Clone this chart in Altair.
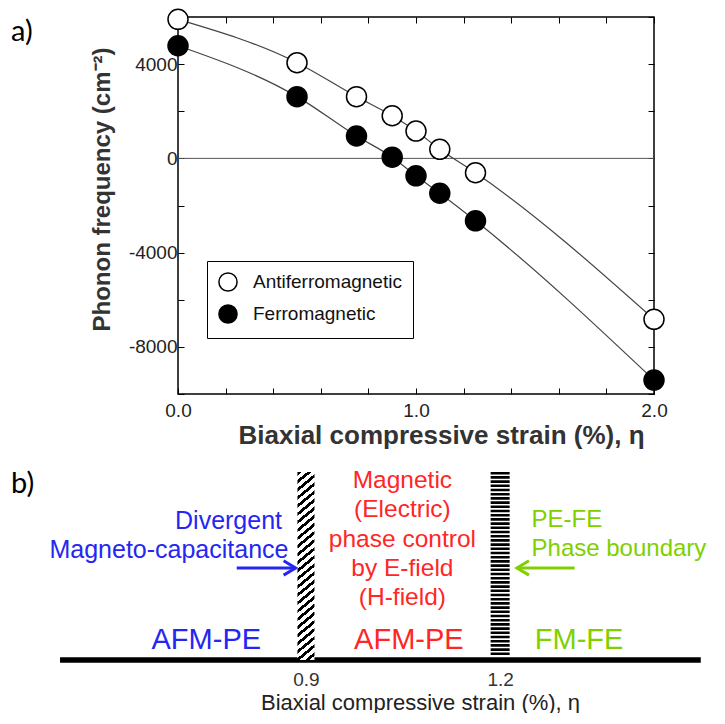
import altair as alt
import pandas as pd

# ---------------- data (panel a) ----------------
strain = [0.0, 0.5, 0.75, 0.9, 1.0, 1.1, 1.25, 2.0]
afm_freq = [5900, 4060, 2620, 1810, 1160, 385, -610, -6830]
fm_freq = [4780, 2620, 950, 50, -740, -1480, -2650, -9410]
series_names = ["Antiferromagnetic", "Ferromagnetic"]

y_tick_values = [-10000, -8000, -6000, -4000, -2000, 0, 2000, 4000, 6000]
y_label_values = [-8000, -4000, 0, 4000]
x_tick_values = [0.0, 0.2, 0.4, 0.6, 0.8, 1.0, 1.2, 1.4, 1.6, 1.8, 2.0]
x_label_values = [0.0, 1.0, 2.0]

# ---------------- data (panel b) ----------------
boundary_strain = [0.9, 1.2]
line_extent = [0.52, 1.51]
blue_text = ["Divergent", "Magneto-capacitance"]
blue_x = [0.863, 0.873]
blue_level = [7.0, 5.55]
red_text = ["Magnetic", "(Electric)", "phase control", "by E-field", "(H-field)"]
red_x = [1.049] * 5
red_level = [9.04, 7.58, 6.06, 4.6, 3.13]
green_text = ["PE-FE", "Phase boundary"]
green_x = [1.2485, 1.2485]
green_level = [7.07, 5.6]
phase_names = ["AFM-PE", "AFM-PE", "FM-FE"]
phase_x = [0.746, 1.059, 1.322]
phase_level = [1.0, 1.0, 1.0]
arrow_from = [0.793, 1.315]
arrow_to = [0.884, 1.226]
arrow_level = [4.65, 4.65]

BLUE = "#2626f2"
RED = "#ff2626"
GREEN = "#80d000"
FONT = "Liberation Sans"

# ---------------- panel a ----------------
W, H = 476, 377
xs = alt.Scale(domain=[0, 2], nice=False, zero=False)
ys = alt.Scale(domain=[-10000, 6000], nice=False, zero=False)

df = pd.DataFrame({
    "strain": strain * 2,
    "freq": afm_freq + fm_freq,
    "series": [series_names[0]] * len(strain) + [series_names[1]] * len(strain),
})
df_afm = df[df.series == series_names[0]]
df_fm = df[df.series == series_names[1]]


def tick_axis(orient, offset, values):
    return alt.Axis(orient=orient, offset=offset, values=values, labels=False,
                    title=None, domain=False, grid=False, ticks=True,
                    tickSize=6, tickColor="black", tickWidth=1)


main_x_axis = alt.Axis(orient="bottom", values=x_label_values, format=".1f",
                       ticks=False, domain=False, grid=False, labelFlush=False,
                       labelFontSize=19, labelColor="#222", labelPadding=7,
                       title="Biaxial compressive strain (%), η",
                       titleFontSize=26, titleFontWeight="bold",
                       titleColor="#333", titlePadding=2, titleX=263)
main_y_axis = alt.Axis(orient="left", values=y_label_values,
                       labelExpr="datum.value + ''", labelFlush=False,
                       ticks=False, domain=False, grid=False,
                       labelFontSize=19, labelColor="#222", labelPadding=1,
                       title="Phonon frequency (cm⁻²)", titleFontSize=24,
                       titleFontWeight="bold", titleColor="#333",
                       titlePadding=14, titleY=172)

zero_line = alt.Chart(pd.DataFrame({"v": [0]})).mark_rule(
    color="#555", strokeWidth=1).encode(
    y=alt.Y("v:Q", scale=ys, axis=main_y_axis))

line_afm = alt.Chart(df_afm).mark_line(
    color="#444", strokeWidth=1.2, interpolate="monotone").encode(
    x=alt.X("strain:Q", scale=xs, axis=main_x_axis),
    y=alt.Y("freq:Q", scale=ys, axis=tick_axis("right", -W, y_tick_values)))

line_fm = alt.Chart(df_fm).mark_line(
    color="#444", strokeWidth=1.2, interpolate="monotone").encode(
    x=alt.X("strain:Q", scale=xs, axis=tick_axis("top", -H, x_tick_values)),
    y=alt.Y("freq:Q", scale=ys, axis=tick_axis("left", -W, y_tick_values)))

points = alt.Chart(df).mark_point(
    filled=True, stroke="black", strokeWidth=1.5, size=400, opacity=1).encode(
    x=alt.X("strain:Q", scale=xs, axis=tick_axis("bottom", -H, x_tick_values)),
    y=alt.Y("freq:Q", scale=ys, axis=None),
    fill=alt.Fill("series:N",
                  scale=alt.Scale(domain=series_names, range=["white", "black"]),
                  legend=alt.Legend(title=None, orient="none", legendX=29, legendY=244,
                                    strokeColor="black", padding=11,
                                    labelFontSize=19, labelColor="#111",
                                    labelFont=FONT,
                                    symbolSize=330, symbolType="circle",
                                    symbolStrokeColor="black", symbolStrokeWidth=1.5,
                                    labelOffset=15, rowPadding=6, labelLimit=300)),
)

top = alt.layer(zero_line, line_afm, line_fm, points).resolve_axis(
    x="independent", y="independent").properties(
    width=W, height=H,
    view=alt.ViewBackground(stroke="black", strokeWidth=1.5),
    title=alt.TitleParams("a)", anchor="start", frame="group", orient="top",
                          dx=-167, dy=59, fontSize=29, font="Lato",
                          fontWeight="normal", color="black", baseline="middle"),
)

# ---------------- panel b ----------------
HB = 198
xs2 = alt.Scale(domain=[0.71, 1.43], nice=False, zero=False)
ys2 = alt.Scale(domain=[0, 10], nice=False, zero=False)

bottom_axis = alt.Axis(values=boundary_strain, format=".1f", ticks=False,
                       domain=False, grid=False, labelFontSize=19,
                       labelColor="#333", labelPadding=10, labelFlush=False,
                       title="Biaxial compressive strain (%), η",
                       titleFontSize=22, titleFontWeight="normal",
                       titleColor="#222", titlePadding=3, titleX=242)


def X2(field):
    return alt.X(field, scale=xs2, axis=bottom_axis)


def Y2(field):
    return alt.Y(field, scale=ys2, axis=None)


base_line = alt.Chart(pd.DataFrame({"a": [line_extent[0]], "b": [line_extent[1]], "l": [0]})).mark_rule(
    color="black", strokeWidth=5.5).encode(x=X2("a:Q"), x2="b:Q", y=Y2("l:Q"))

n_h = 25
hatch_stops = []
for k in range(n_h):
    a = k / n_h
    m = a + 0.45 / n_h
    b = (k + 1) / n_h
    hatch_stops += [alt.GradientStop(color="white", offset=a),
                    alt.GradientStop(color="black", offset=a),
                    alt.GradientStop(color="black", offset=m),
                    alt.GradientStop(color="white", offset=m),
                    alt.GradientStop(color="white", offset=b)]
hatch_fill = alt.LinearGradient(gradient="linear", stops=hatch_stops,
                                x1=0, y1=0, x2=0.08, y2=1.07)

hatch_bar = alt.Chart(pd.DataFrame({"s": [boundary_strain[0]], "t": [9.5], "b": [0.0]})).mark_bar(
    size=17, fill=hatch_fill, stroke=None).encode(x=X2("s:Q"), y=Y2("t:Q"), y2="b:Q")

stripe_bar = alt.Chart(pd.DataFrame({"s": [boundary_strain[1]], "t": [9.5], "b": [0.25]})).mark_rule(
    color="black", strokeWidth=19, strokeDash=[2.6, 1.6]).encode(
    x=X2("s:Q"), y=Y2("t:Q"), y2="b:Q")

blue_df = pd.DataFrame({"t": blue_text, "x": blue_x, "l": blue_level})
red_df = pd.DataFrame({"t": red_text, "x": red_x, "l": red_level})
green_df = pd.DataFrame({"t": green_text, "x": green_x, "l": green_level})
phase_df = pd.DataFrame({"t": phase_names, "x": phase_x, "l": phase_level,
                         "c": [BLUE, RED, GREEN]})

blue_t = alt.Chart(blue_df).mark_text(align="right", baseline="middle", fontSize=25,
                                      color=BLUE, font=FONT).encode(
    x=X2("x:Q"), y=Y2("l:Q"), text="t:N")
red_t = alt.Chart(red_df).mark_text(align="center", baseline="middle", fontSize=24.5,
                                    color=RED, font=FONT).encode(
    x=X2("x:Q"), y=Y2("l:Q"), text="t:N")
green_t = alt.Chart(green_df).mark_text(align="left", baseline="middle", fontSize=24,
                                        color=GREEN, font=FONT).encode(
    x=X2("x:Q"), y=Y2("l:Q"), text="t:N")
phase_t = alt.Chart(phase_df).mark_text(align="center", baseline="middle", fontSize=29,
                                        font=FONT).encode(
    x=X2("x:Q"), y=Y2("l:Q"), text="t:N", color=alt.Color("c:N", scale=None))

arrow_df = pd.DataFrame({"f": arrow_from, "to": arrow_to, "l": arrow_level,
                         "c": [BLUE, GREEN]})
arrow_shaft = alt.Chart(arrow_df).mark_rule(strokeWidth=3).encode(
    x=X2("f:Q"), x2="to:Q", y=Y2("l:Q"), color=alt.Color("c:N", scale=None))
head_r = alt.Chart(arrow_df.iloc[[0]]).mark_point(
    shape="M -1 -0.6 L 0 0 L -1 0.6", filled=False, strokeWidth=3, size=576,
    opacity=1, color=BLUE).encode(x=X2("to:Q"), y=Y2("l:Q"))
head_l = alt.Chart(arrow_df.iloc[[1]]).mark_point(
    shape="M 1 -0.6 L 0 0 L 1 0.6", filled=False, strokeWidth=3, size=576,
    opacity=1, color=GREEN).encode(x=X2("to:Q"), y=Y2("l:Q"))

bottom = alt.layer(base_line, hatch_bar, stripe_bar, blue_t, red_t, green_t,
                   phase_t, arrow_shaft, head_r, head_l).properties(
    width=W, height=HB,
    title=alt.TitleParams("b)", anchor="start", frame="group", orient="top",
                          dx=-167, dy=55, fontSize=29, font="Lato",
                          fontWeight="normal", color="black", baseline="middle"),
)

chart = alt.vconcat(top, bottom, spacing=68, bounds="flush").properties(
    padding={"left": 10, "top": 5, "right": 0, "bottom": 0},
    background="white",
).configure(font=FONT).configure_view(stroke=None)

chart.save("out.html", embed_options={"renderer": "svg", "actions": False})
